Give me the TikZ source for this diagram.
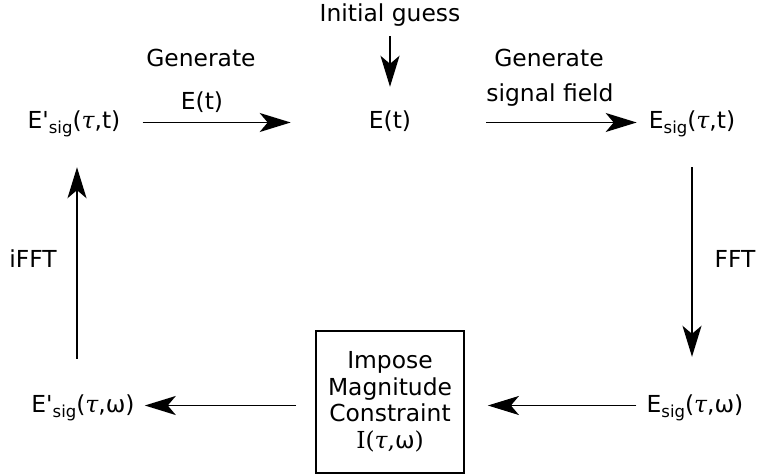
\documentclass[tikz,border=0pt]{standalone}
\usepackage{fontspec}
\usetikzlibrary{arrows.meta}
\newfontfamily\dvs{DejaVu Sans}
\newfontfamily\dser{DejaVu Serif}
\newcommand{\tauI}{{\dser\itshape τ}}
\newcommand{\mysub}[1]{\raisebox{-5bp}{\fontsize{16.5bp}{16.5bp}\selectfont #1}}
\begin{document}
\begin{tikzpicture}[x=1bp,y=-1bp,
  lbl/.style={font=\dvs\fontsize{23.4bp}{23bp}\selectfont, inner sep=0pt, anchor=base, text height=19bp, text depth=6bp},
  arr/.style={line width=1.8bp, -{Stealth[length=31bp,width=19bp,inset=8bp]}},
  boxnode/.style={draw, line width=1.8bp, minimum width=148bp, minimum height=142bp, align=center, inner sep=0pt,
    font=\dvs\fontsize{23.4bp}{26.5bp}\selectfont},
]
\useasboundingbox (0,0) rectangle (757,475);
\node[lbl] (init) at (390,22) {Initial guess};
\node[lbl] (Et) at (390,129) {E(t)};
\node[lbl] (Est) at (692,129) {E\mysub{sig}(\tauI,t)};
\node[lbl] (Epst) at (74,129) {E'\mysub{sig}(\tauI,t)};
\node[lbl] (Esw) at (695,412) {E\mysub{sig}(\tauI,ω)};
\node[lbl] (Epsw) at (83,412) {E'\mysub{sig}(\tauI,ω)};
\node[boxnode] (box) at (390,402) {Impose\\Magnitude\\Constraint\\{\dser I(\textit{τ},}ω{\dser )}};
\node[lbl] (g1) at (201,67) {Generate};
\node[lbl] (g1b) at (202,110) {E(t)};
\node[lbl] (g2) at (549,67) {Generate};
\node[lbl] (g2b) at (550,102) {signal field};
\node[lbl] (ifft) at (33,268) {iFFT};
\node[lbl] (fft) at (735,268) {FFT};

\draw[arr, shorten <=8bp, shorten >=23bp] (init.south) -- (Et.north);
\draw[arr, shorten <=22bp, shorten >=78bp] (Epst.east) -- (Et.west);
\draw[arr, shorten <=75bp, shorten >=12bp] (Et.east) -- (Est.west);
\draw[arr, shorten <=32bp, shorten >=36bp] (Est.south) -- (Est.south |- Esw.north);
\draw[arr, shorten <=10bp, shorten >=23bp] (Esw.west) -- (box.east |- Esw.west);
\draw[arr, shorten <=19bp, shorten >=10bp] (box.west |- Epsw.east) -- (Epsw.east);
\draw[arr, shorten <=34bp, shorten >=32bp] ([xshift=3bp]Epsw.north -| Epst.south) -- ([xshift=3bp]Epst.south);
\end{tikzpicture}
\end{document}
